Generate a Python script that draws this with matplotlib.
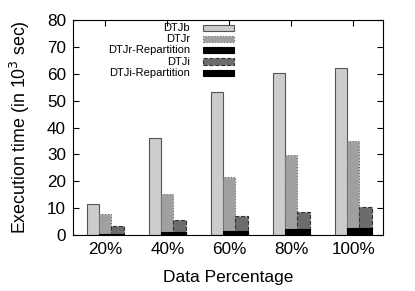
import numpy as np
import matplotlib.pyplot as plt
from matplotlib.patches import Rectangle

plt.rcParams["font.family"] = ["Liberation Sans", "DejaVu Sans"]

# data (10^3 sec)
categories = ["20%", "40%", "60%", "80%", "100%"]
dtjb = [11.4, 36.0, 53.3, 60.3, 62.0]
dtjr = [7.7, 15.3, 21.6, 29.8, 35.0]
dtjr_rep = [0.6, 1.1, 1.5, 2.1, 2.5]
dtji = [3.3, 5.8, 7.0, 8.6, 10.5]
dtji_rep = [0.6, 1.1, 1.5, 2.1, 2.5]

series = [
    ("DTJb", dtjb, -0.2, "#cccccc", "#555555", "-"),
    ("DTJr", dtjr, 0.0, "#a0a0a0", "#666666", ":"),
    ("DTJr-Repartition", dtjr_rep, 0.0, "#000000", "#000000", "-"),
    ("DTJi", dtji, 0.2, "#6c6c6c", "#333333", "--"),
    ("DTJi-Repartition", dtji_rep, 0.2, "#000000", "#000000", "-"),
]

fig = plt.figure(figsize=(4.15, 2.91), dpi=100)
ax = fig.add_axes([0.176, 0.192, 0.747, 0.739])

x = np.arange(len(categories))
width = 0.2
for name, vals, off, face, edge, ls in series:
    ax.bar(x + off, vals, width, color=face, edgecolor=edge, linestyle=ls, linewidth=0.8, zorder=2)

ax.set_xlim(-0.52, 4.48)
ax.set_ylim(0, 80)
ax.set_xticks(x)
ax.set_xticklabels(categories)
ax.set_yticks(np.arange(0, 81, 10))
ax.tick_params(direction="in", top=True, right=True, labelsize=12.3, length=4, pad=5)
ax.set_xlabel("Data Percentage", fontsize=12.5, labelpad=9)
ax.set_ylabel("Execution time (in 10$^3$ sec)", fontsize=12.8, labelpad=11)

# gnuplot-style key: text right aligned, sample on the right
row_y = [0.963, 0.912, 0.86, 0.807, 0.755]
for (name, vals, off, face, edge, ls), yy in zip(series, row_y):
    ax.text(0.377, yy, name, transform=ax.transAxes, ha="right", va="center", fontsize=8)
    ax.add_patch(Rectangle((0.419, yy - 0.015), 0.10, 0.03, transform=ax.transAxes,
                           facecolor=face, edgecolor=edge, linestyle=ls, linewidth=0.8, zorder=3))

fig.savefig("out.png", dpi=100)
